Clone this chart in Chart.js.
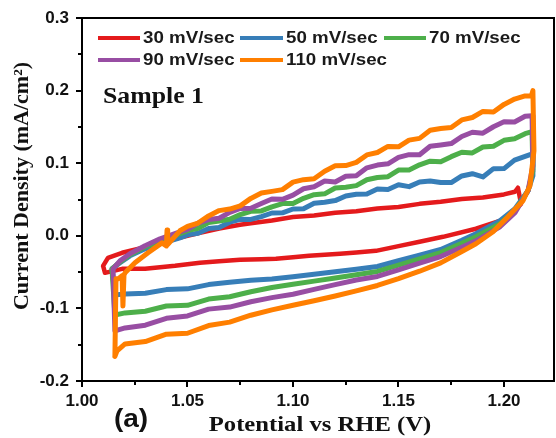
<!DOCTYPE html>
<html>
<head>
<meta charset="utf-8">
<script src="https://cdn.jsdelivr.net/npm/chart.js@4.4.1/dist/chart.umd.min.js"></script>
<style>
html,body{margin:0;padding:0;background:#fff;}
#wrap{width:556px;height:438px;position:relative;}
canvas{display:block;}
</style>
</head>
<body>
<div id="wrap"><canvas id="c" width="556" height="438"></canvas></div>
<script>
// Scan-rate labels and colours
const scanLabels = ['30 mV/sec', '50 mV/sec', '70 mV/sec', '90 mV/sec', '110 mV/sec'];
const scanColors = ['#e41a1c', '#377eb8', '#4daf4a', '#984ea3', '#ff7f00'];

// Potential grid used for the anodic (upper) sweeps
const upperGridV = [1.050,1.055,1.060,1.065,1.070,1.075,1.080,1.085,1.090,1.095,1.100,1.105,1.110,1.115,1.120,1.125,1.130,
                    1.135,1.140,1.145,1.150,1.155,1.160,1.165,1.170,1.175,1.180,1.185,1.190,1.195,1.200,1.205,1.210];
// Potential grid used for the cathodic (lower) sweeps
const lowerGridV = [1.18,1.17,1.16,1.15,1.14,1.13,1.12,1.11,1.10,1.09,1.08,1.07,1.06,1.05,1.04,1.03];

// ---- 30 mV/sec ----
const v30 = [1.0100,1.0123,1.0190,1.0284,1.0379,1.0441,1.0559,1.0650,1.0749,1.0800,1.0900,1.1000,1.1100,1.1200,1.1300,1.1400,1.1500,1.1600,1.1700,1.1800,1.1900,1.2000,1.2052,1.2066,
             1.2081,1.2009,1.1867,1.1711,1.1600,1.1500,1.1393,1.1300,1.1223,1.1150,1.1076,1.1000,1.0919,1.0850,1.0749,1.0650,1.0559,1.0500,1.0441,1.0370,1.0299,1.0190,1.0109,1.0100];
const j30 = [-0.0414,-0.0303,-0.0234,-0.0166,-0.0097,-0.0041,0.0041,0.0100,0.0152,0.0174,0.0212,0.0258,0.0281,0.0318,0.0339,0.0376,0.0398,0.0440,0.0470,0.0508,0.0527,0.0570,0.0607,0.0662,
             0.0441,0.0234,0.0097,-0.0014,-0.0081,-0.0142,-0.0207,-0.0229,-0.0248,-0.0262,-0.0276,-0.0296,-0.0317,-0.0323,-0.0331,-0.0352,-0.0372,-0.0393,-0.0414,-0.0434,-0.0455,-0.0455,-0.0510,-0.0414];

// ---- 50 mV/sec ----
const up50 = [0.0013,0.0036,0.0100,0.0115,0.0188,0.0227,0.0226,0.0265,0.0314,0.0316,0.0369,0.0373,0.0447,0.0461,0.0485,0.0548,0.0572,
              0.0576,0.0644,0.0638,0.0702,0.0677,0.0741,0.0755,0.0735,0.0734,0.0824,0.0855,0.0811,0.0925,0.0926,0.1043,0.1094];
const low50 = [-0.0062,-0.0188,-0.0266,-0.0344,-0.0423,-0.0460,-0.0495,-0.0530,-0.0565,-0.0596,-0.0612,-0.0641,-0.0672,-0.0731,-0.0741,-0.0792];
const v50 = [1.0156,1.0142,1.0180,1.0227,1.0299,1.0370,1.0464].concat(upperGridV, [1.2137, 1.2137,1.2114,1.2052,1.1981,1.1867], lowerGridV, [1.0204,1.0156]);
const j50 = [-0.0814,-0.0455,-0.0372,-0.0276,-0.0179,-0.0110,-0.0028].concat(up50, [0.1131, 0.0828,0.0621,0.0372,0.0207,0.0028], low50, [-0.0800,-0.0814]);

// ---- 70 mV/sec ----
const up70 = [0.0072,0.0103,0.0182,0.0205,0.0227,0.0293,0.0338,0.0343,0.0398,0.0444,0.0445,0.0516,0.0567,0.0578,0.0659,0.0670,0.0691,
              0.0772,0.0803,0.0814,0.0905,0.0906,0.0977,0.1028,0.1019,0.1090,0.1151,0.1142,0.1223,0.1234,0.1315,0.1336,0.1407];
const low70 = [-0.0103,-0.0231,-0.0317,-0.0404,-0.0491,-0.0537,-0.0580,-0.0624,-0.0667,-0.0712,-0.0770,-0.0839,-0.0872,-0.0958,-0.0967,-0.1039];
const v70 = [1.0156,1.0142,1.0180,1.0227,1.0299,1.0370,1.0464].concat(upperGridV, [1.2133, 1.2137,1.2114,1.2052,1.1981,1.1867], lowerGridV, [1.0204,1.0156]);
const j70 = [-0.1090,-0.0455,-0.0359,-0.0262,-0.0152,-0.0069,0.0028].concat(up70, [0.1434, 0.0897,0.0621,0.0345,0.0166,-0.0014], low70, [-0.1062,-0.1090]);

// ---- 90 mV/sec ----
const up90 = [0.0087,0.0176,0.0224,0.0242,0.0323,0.0377,0.0380,0.0444,0.0507,0.0502,0.0560,0.0648,0.0676,0.0754,0.0742,0.0820,0.0828,
              0.0936,0.0974,0.0992,0.1080,0.1118,0.1116,0.1234,0.1252,0.1270,0.1368,0.1426,0.1414,0.1502,0.1570,0.1568,0.1646];
const low90 = [-0.0158,-0.0286,-0.0377,-0.0468,-0.0560,-0.0608,-0.0673,-0.0738,-0.0805,-0.0852,-0.0909,-0.0982,-0.1010,-0.1104,-0.1137,-0.1232];
const v90 = [1.0156,1.0147,1.0180,1.0227,1.0299,1.0370,1.0464].concat(upperGridV, [1.2133, 1.2137,1.2114,1.2052,1.1981,1.1867], lowerGridV, [1.0204,1.0156]);
const j90 = [-0.1310,-0.0455,-0.0345,-0.0248,-0.0138,-0.0041,0.0055].concat(up90, [0.1655, 0.0966,0.0621,0.0317,0.0124,-0.0069], low90, [-0.1269,-0.1310]);

// ---- 110 mV/sec ----
const up110 = [0.0129,0.0176,0.0274,0.0347,0.0368,0.0412,0.0515,0.0589,0.0612,0.0636,0.0739,0.0773,0.0786,0.0890,0.0964,0.0967,0.1011,
               0.1114,0.1148,0.1231,0.1225,0.1318,0.1342,0.1455,0.1479,0.1492,0.1596,0.1629,0.1713,0.1706,0.1810,0.1883,0.1927];
const low110 = [-0.0217,-0.0373,-0.0488,-0.0590,-0.0684,-0.0759,-0.0829,-0.0894,-0.0957,-0.1021,-0.1094,-0.1189,-0.1236,-0.1342,-0.1355,-0.1457];
const v110 = [1.0156,1.0161,1.0171,1.0190,1.0194,1.0199,1.0204,1.0251,1.0313,1.0379,1.0400,1.0403,1.0406,1.0464].concat(
               upperGridV, [1.2130,1.2137, 1.2142,1.2123,1.2090,1.2014,1.1948,1.1867], lowerGridV, [1.0204,1.0166,1.0156]);
const j110 = [-0.1660,-0.0593,-0.0593,-0.0550,-0.0966,-0.0540,-0.0510,-0.0372,-0.0234,-0.0097,-0.0140,0.0080,-0.0120,0.0069].concat(
               up110, [0.1930,0.2000, 0.1172,0.0690,0.0483,0.0248,0.0055,-0.0110], low110, [-0.1490,-0.1586,-0.1660]);

// Axis ticks
const xTicks = [1.00, 1.05, 1.10, 1.15, 1.20];
const xMinorTicks = [1.025, 1.075, 1.125, 1.175];
const yTicks = [-0.2, -0.1, 0.0, 0.1, 0.2, 0.3];
const yMinorTicks = [-0.15, -0.05, 0.05, 0.15, 0.25];

const allV = [v30, v50, v70, v90, v110];
const allJ = [j30, j50, j70, j90, j110];

function pts(v, j) { return v.map((x, i) => ({x: x, y: j[i]})); }

// datasets: fastest scan first so it is painted on top
const datasets = [];
for (let k = scanLabels.length - 1; k >= 0; k--) {
  datasets.push({
    label: scanLabels[k],
    data: pts(allV[k], allJ[k]),
    borderColor: scanColors[k],
    backgroundColor: scanColors[k],
    borderWidth: k === 0 ? 4.5 : 5,
    borderJoinStyle: 'round',
    borderCapStyle: 'round',
    pointRadius: 0,
    showLine: true,
    tension: 0,
    fill: false
  });
}

const SANS = '"Liberation Sans", Arial, sans-serif';
const SERIF = '"Liberation Serif", "Times New Roman", serif';

const decor = {
  id: 'decor',
  afterDraw(chart) {
    const ctx = chart.ctx;
    const ca = chart.chartArea;
    const sx = chart.scales.x, sy = chart.scales.y;
    ctx.save();
    // frame (top, right)
    ctx.strokeStyle = '#000';
    ctx.lineWidth = 2;
    ctx.beginPath();
    ctx.moveTo(ca.left, ca.top); ctx.lineTo(ca.right, ca.top); ctx.lineTo(ca.right, ca.bottom);
    ctx.stroke();
    // minor ticks
    ctx.beginPath();
    yMinorTicks.forEach(v => { const p = Math.round(sy.getPixelForValue(v)); ctx.moveTo(ca.left - 4, p); ctx.lineTo(ca.left, p); });
    xMinorTicks.forEach(v => { const p = Math.round(sx.getPixelForValue(v)); ctx.moveTo(p, ca.bottom); ctx.lineTo(p, ca.bottom + 4); });
    ctx.stroke();

    // legend
    const rows = [[0, 1, 2], [3, 4]];
    const colX = [98, 240, 384];
    const rowY = [38, 60];
    const lineLen = [42, 43, 42];
    ctx.textBaseline = 'middle';
    ctx.textAlign = 'left';
    ctx.font = 'bold 16px ' + SANS;
    rows.forEach((r, ri) => {
      r.forEach((k, ci) => {
        const x0 = colX[ci], y0 = rowY[ri];
        ctx.strokeStyle = scanColors[k];
        ctx.lineWidth = 4;
        ctx.beginPath(); ctx.moveTo(x0, y0); ctx.lineTo(x0 + lineLen[ci], y0); ctx.stroke();
        ctx.save();
        ctx.translate(x0 + lineLen[ci] + 3, y0 + 1);
        ctx.scale(1.17, 1);
        ctx.fillStyle = '#1a1a1a';
        ctx.fillText(scanLabels[k], 0, 0);
        ctx.restore();
      });
    });

    // Sample label
    ctx.save();
    ctx.translate(103, 97);
    ctx.scale(1.12, 1);
    ctx.fillStyle = '#111';
    ctx.font = 'bold 23px ' + SERIF;
    ctx.textBaseline = 'middle';
    ctx.fillText('Sample 1', 0, 0);
    ctx.restore();

    // x title
    ctx.save();
    ctx.translate(320, 425);
    ctx.scale(1.12, 1);
    ctx.fillStyle = '#111';
    ctx.font = 'bold 22px ' + SERIF;
    ctx.textAlign = 'center';
    ctx.textBaseline = 'middle';
    ctx.fillText('Potential vs RHE (V)', 0, 0);
    ctx.restore();

    // y title
    ctx.save();
    ctx.translate(22, 186);
    ctx.rotate(-Math.PI / 2);
    ctx.fillStyle = '#111';
    ctx.font = 'bold 22px ' + SERIF;
    ctx.textAlign = 'center';
    ctx.textBaseline = 'middle';
    ctx.fillText('Current Density (mA/cm\u00B2)', 0, 0);
    ctx.restore();

    // panel label
    ctx.save();
    ctx.translate(131, 420);
    ctx.scale(1.12, 1);
    ctx.fillStyle = '#111';
    ctx.font = 'bold 25px ' + SANS;
    ctx.textAlign = 'center';
    ctx.textBaseline = 'middle';
    ctx.fillText('(a)', 0, 0);
    ctx.restore();

    ctx.restore();
  }
};

new Chart(document.getElementById('c'), {
  type: 'scatter',
  data: { datasets: datasets },
  options: {
    responsive: false,
    animation: false,
    devicePixelRatio: 1,
    layout: { padding: { top: 18, right: 2, left: 0, bottom: 0 } },
    plugins: { legend: { display: false }, tooltip: { enabled: false } },
    scales: {
      x: {
        type: 'linear', min: 1.0, max: 1.2237,
        afterFit(s) { s.height = 57; },
        afterBuildTicks(s) { s.ticks = xTicks.map(v => ({value: v})); },
        ticks: { callback: v => Number(v).toFixed(2), color: '#111', font: { family: SANS, size: 17, weight: 'bold' }, padding: 4, maxRotation: 0 },
        grid: { display: true, drawOnChartArea: false, drawTicks: true, tickLength: 6, color: '#000', lineWidth: 2 },
        border: { display: true, color: '#000', width: 2 }
      },
      y: {
        type: 'linear', min: -0.2, max: 0.3,
        afterFit(s) { s.width = 82; },
        afterBuildTicks(s) { s.ticks = yTicks.map(v => ({value: v})); },
        ticks: { callback: v => Number(v).toFixed(1), color: '#111', font: { family: SANS, size: 17, weight: 'bold' }, padding: 7 },
        grid: { display: true, drawOnChartArea: false, drawTicks: true, tickLength: 6, color: '#000', lineWidth: 2 },
        border: { display: true, color: '#000', width: 2 }
      }
    }
  },
  plugins: [decor]
});
</script>
</body>
</html>
